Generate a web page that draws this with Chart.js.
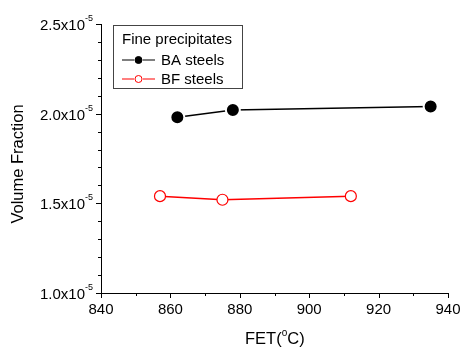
<!DOCTYPE html>
<html>
<head>
<meta charset="utf-8">
<script src="https://cdn.jsdelivr.net/npm/chart.js@4/dist/chart.umd.min.js"></script>
<style>
  html, body { margin: 0; padding: 0; background: #fff; }
  #wrap { width: 460px; height: 347px; }
</style>
</head>
<body>
<div id="wrap"><canvas id="c" width="460" height="347"></canvas></div>
<script>
// データ
const baTemps = [862, 878, 935];
const baFractions = [1.98e-5, 2.02e-5, 2.04e-5];
const bfTemps = [857, 875, 912];
const bfFractions = [1.54e-5, 1.52e-5, 1.54e-5];

const xTicks = [840, 860, 880, 900, 920, 940];
const yTicks = [1.0e-5, 1.5e-5, 2.0e-5, 2.5e-5];
const yTickMantissa = ["1.0", "1.5", "2.0", "2.5"];

const legendTitle = "Fine precipitates";
const seriesNames = ["BA steels", "BF steels"];

const FONT = "Liberation Sans, Arial, sans-serif";

// 軸・目盛り・凡例をまとめて描くプラグイン
const axisDecor = {
  id: "axisDecor",
  afterDraw(chart) {
    const ctx = chart.ctx;
    const xs = chart.scales.x;
    const ys = chart.scales.y;
    const area = chart.chartArea;
    ctx.save();
    ctx.strokeStyle = "#000";
    ctx.fillStyle = "#000";
    ctx.lineWidth = 1;

    // x 目盛り（主・副）
    for (let v = 840; v <= 940; v += 10) {
      const px = Math.round(xs.getPixelForValue(v)) + 0.5;
      const len = (v % 20 === 0) ? 5 : 3;
      ctx.beginPath();
      ctx.moveTo(px, area.bottom);
      ctx.lineTo(px, area.bottom + len);
      ctx.stroke();
    }
    ctx.font = "15px " + FONT;
    ctx.textAlign = "center";
    ctx.textBaseline = "alphabetic";
    xTicks.forEach(v => {
      ctx.fillText(String(v), xs.getPixelForValue(v), area.bottom + 21);
    });

    // y 目盛り（主・副）
    for (let i = 10; i <= 25; i++) {
      const py = Math.round(ys.getPixelForValue(i * 1e-6)) + 0.5;
      const len = (i % 5 === 0) ? 5 : 3;
      ctx.beginPath();
      ctx.moveTo(area.left, py);
      ctx.lineTo(area.left - len, py);
      ctx.stroke();
    }
    yTicks.forEach((v, i) => {
      const py = ys.getPixelForValue(v);
      ctx.font = "9px " + FONT;
      ctx.textAlign = "right";
      ctx.textBaseline = "alphabetic";
      const supW = ctx.measureText("-5").width;
      const rightX = area.left - 8;
      ctx.fillText("-5", rightX, py - 3);
      ctx.font = "15px " + FONT;
      ctx.fillText(yTickMantissa[i] + "x10", rightX - supW, py + 6);
    });

    // 軸タイトル
    ctx.save();
    ctx.translate(18, 164);
    ctx.rotate(-Math.PI / 2);
    ctx.font = "16.5px " + FONT;
    ctx.textAlign = "center";
    ctx.textBaseline = "middle";
    ctx.fillText("Volume Fraction", 0, 0);
    ctx.restore();

    ctx.textAlign = "left";
    ctx.textBaseline = "alphabetic";
    const p1 = "FET(", p3 = "C)";
    ctx.font = "16.5px " + FONT;
    const w1 = ctx.measureText(p1).width;
    const w3 = ctx.measureText(p3).width;
    ctx.font = "10px " + FONT;
    const w2 = ctx.measureText("o").width;
    const tx = 245;
    const ty = 344;
    ctx.font = "16.5px " + FONT;
    ctx.fillText(p1, tx, ty);
    ctx.font = "10px " + FONT;
    ctx.fillText("o", tx + w1, ty - 8);
    ctx.font = "16.5px " + FONT;
    ctx.fillText(p3, tx + w1 + w2, ty);

    // 凡例
    const lx = 113.5, ly = 25.5, lw = 129, lh = 63;
    ctx.strokeStyle = "#444";
    ctx.strokeRect(lx, ly, lw, lh);
    ctx.fillStyle = "#000";
    ctx.font = "15px " + FONT;
    ctx.textBaseline = "middle";
    ctx.fillText(legendTitle, 122, 40);
    const rows = [
      { y: 60, color: "#000", fill: "#000", name: seriesNames[0] },
      { y: 79, color: "#ff0000", fill: "#fff", name: seriesNames[1] }
    ];
    rows.forEach(r => {
      ctx.strokeStyle = r.color;
      ctx.lineWidth = 1.2;
      ctx.beginPath();
      ctx.moveTo(122, r.y); ctx.lineTo(134, r.y);
      ctx.moveTo(143, r.y); ctx.lineTo(155, r.y);
      ctx.stroke();
      ctx.beginPath();
      ctx.arc(138.5, r.y, 3.5, 0, Math.PI * 2);
      ctx.fillStyle = r.fill;
      ctx.fill();
      ctx.lineWidth = 1;
      ctx.stroke();
      ctx.fillStyle = "#000";
      ctx.fillText(r.name, 161, r.y + 1);
    });
    ctx.restore();
  }
};

new Chart(document.getElementById("c"), {
  type: "scatter",
  data: {
    datasets: [
      {
        label: seriesNames[0],
        data: baTemps.map((t, i) => ({ x: t, y: baFractions[i] })),
        showLine: true,
        borderColor: "#000",
        borderWidth: 1.5,
        pointBackgroundColor: "#000",
        pointBorderColor: "#fff",
        pointBorderWidth: 2,
        pointRadius: 7
      },
      {
        label: seriesNames[1],
        data: bfTemps.map((t, i) => ({ x: t, y: bfFractions[i] })),
        showLine: true,
        borderColor: "#ff0000",
        borderWidth: 1.5,
        pointBackgroundColor: "#fff",
        pointBorderColor: "#ff0000",
        pointBorderWidth: 1.2,
        pointRadius: 5.5
      }
    ]
  },
  options: {
    responsive: false,
    animation: false,
    events: [],
    layout: { padding: { left: 0, right: 12, top: 24, bottom: 0 } },
    plugins: { legend: { display: false }, tooltip: { enabled: false } },
    scales: {
      x: {
        type: "linear",
        min: 840, max: 940,
        grid: { display: false },
        border: { display: true, color: "#000", width: 1 },
        ticks: { display: false },
        afterFit(scale) { scale.height = 54; }
      },
      y: {
        type: "linear",
        min: 1.0e-5, max: 2.5e-5,
        grid: { display: false },
        border: { display: true, color: "#000", width: 1 },
        ticks: { display: false },
        afterFit(scale) { scale.width = 101; }
      }
    }
  },
  plugins: [axisDecor]
});
</script>
</body>
</html>
